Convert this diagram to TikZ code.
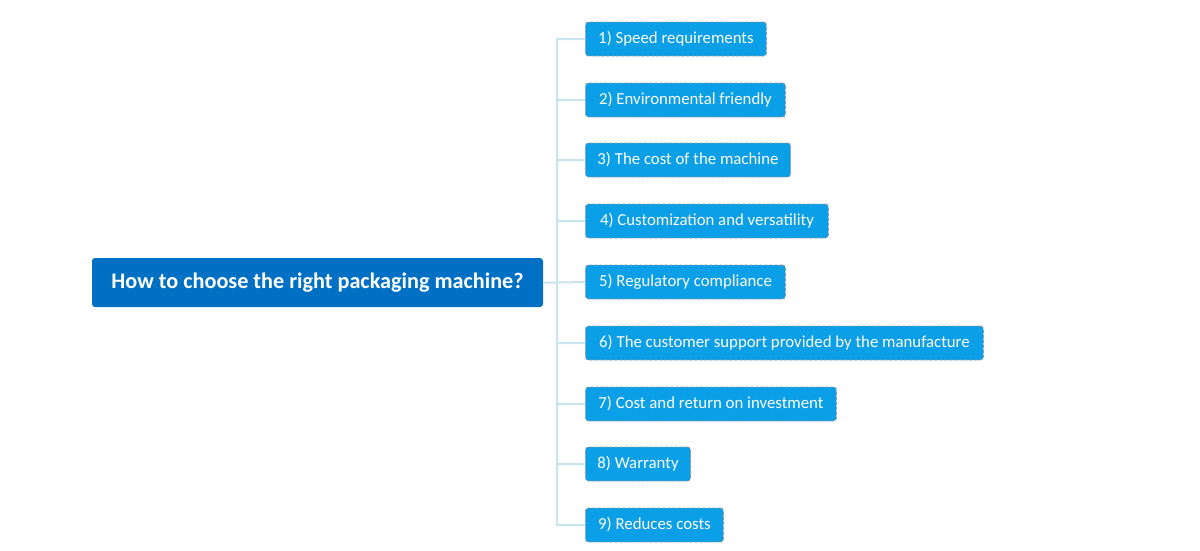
\documentclass[tikz,border=0pt]{standalone}
\usepackage{fontspec}
\setmainfont{Carlito}
\definecolor{rootblue}{HTML}{0070C4}
\definecolor{leafblue}{HTML}{0A9FE6}
\definecolor{linkblue}{HTML}{C8E4EC}
\definecolor{dashgrey}{HTML}{9A9A9A}
\tikzset{
  rootbox/.style={rectangle, rounded corners=3pt, fill=rootblue, text=white,
    minimum width=451pt, minimum height=49pt,
    font=\fontsize{22.2}{26}\selectfont\bfseries},
  leafbox/.style={rectangle, rounded corners=3pt, fill=leafblue, text=white,
    draw=dashgrey, dash pattern=on 3pt off 2pt, line width=0.9pt,
    anchor=west, minimum height=34pt, inner xsep=12pt,
    font=\fontsize{16.8}{20}\selectfont},
  link/.style={draw=linkblue, line width=2pt}
}
\begin{document}
\begin{tikzpicture}[x=1pt, y=-1pt]
  \useasboundingbox (0,0) rectangle (1200,550);
  \path node (root) at (317.5,282.5) [rootbox] {How to choose the right packaging machine?}
        coordinate (hub) at (557,282.5)
        node (c1) at (585,39)  [leafbox, minimum width=181pt] {1) Speed requirements}
        node (c2) at (585,100) [leafbox, minimum width=200pt] {2) Environmental friendly}
        node (c3) at (585,160) [leafbox, minimum width=205pt] {3) The cost of the machine}
        node (c4) at (585,221) [leafbox, minimum width=243pt] {4) Customization and versatility}
        node (c5) at (585,282) [leafbox, minimum width=200pt] {5) Regulatory compliance}
        node (c6) at (585,343) [leafbox, minimum width=398pt] {6) The customer support provided by the manufacture}
        node (c7) at (585,404) [leafbox, minimum width=251pt] {7) Cost and return on investment}
        node (c8) at (585,464) [leafbox, minimum width=104pt] {8) Warranty}
        node (c9) at (585,525) [leafbox, minimum width=138pt] {9) Reduces costs};
  \begin{scope}[on background layer/.try]
  \draw[link] (root.east) -- (hub)
        (hub) |- (c1.west)
        (hub) |- (c2.west)
        (hub) |- (c3.west)
        (hub) |- (c4.west)
        (hub) -- (c5.west)
        (hub) |- (c6.west)
        (hub) |- (c7.west)
        (hub) |- (c8.west)
        (hub) |- (c9.west);
  \end{scope}
\end{tikzpicture}
\end{document}
